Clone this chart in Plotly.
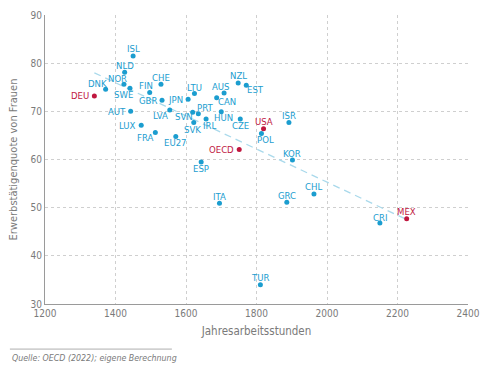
import plotly.graph_objects as go

countries = ["ISL", "NLD", "NOR", "DNK", "SWE", "DEU", "CHE", "FIN", "GBR", "JPN", "LTU",
             "AUT", "LVA", "SVN", "PRT", "SVK", "IRL", "LUX", "FRA", "EU27", "NZL", "EST",
             "AUS", "CAN", "HUN", "CZE", "USA", "POL", "OECD", "ISR", "KOR", "ESP", "GRC",
             "CHL", "CRI", "MEX", "ITA", "TUR"]
hours = [1450, 1426, 1424, 1372, 1441, 1340, 1529, 1497, 1532, 1606, 1624,
         1443, 1554, 1619, 1635, 1622, 1657, 1473, 1513, 1571, 1748, 1771,
         1708, 1687, 1700, 1754, 1820, 1814, 1751, 1892, 1902, 1643, 1886,
         1963, 2150, 2226, 1695, 1811]
rate = [81.5, 78.1, 75.6, 74.6, 74.8, 73.2, 75.6, 73.9, 72.3, 72.5, 73.7,
        70.0, 70.3, 69.8, 69.5, 67.7, 68.4, 67.1, 65.6, 64.8, 75.9, 75.4,
        73.8, 72.8, 69.9, 68.4, 66.4, 65.4, 62.1, 67.7, 59.9, 59.5, 51.1,
        52.85, 46.8, 47.7, 50.9, 34.0]
highlight = ["DEU", "USA", "OECD", "MEX"]

trend_hours = [1340, 2224]
trend_rate = [78.0, 47.6]

x_ticks = [1200, 1400, 1600, 1800, 2000, 2200, 2400]
y_ticks = [30, 40, 50, 60, 70, 80, 90]

# label placement (style only): (xanchor, xshift, yshift)
label_pos = {
    "ISL": ("center", 0, 7), "NLD": ("center", 0, 7), "NOR": ("center", -6, 5.5),
    "DNK": ("center", -8, 6), "SWE": ("center", -6, -6.5), "DEU": ("right", -3, 0),
    "CHE": ("center", 0, 7), "FIN": ("center", -3.5, 7), "GBR": ("right", -3, 0),
    "JPN": ("right", -3, 0), "LTU": ("center", 0, 6.5), "AUT": ("right", -3, 0),
    "LVA": ("center", -9, -6), "SVN": ("center", -9, -4.5), "PRT": ("center", 6.5, 6),
    "SVK": ("center", -1.5, -7), "IRL": ("center", 3, -6), "LUX": ("right", -3, 0),
    "FRA": ("center", -10, -4.5), "EU27": ("center", 0, -6.5), "NZL": ("center", 0, 7),
    "EST": ("center", 9, -4.5), "AUS": ("center", -3, 7), "CAN": ("center", 10, -4),
    "HUN": ("center", 2.5, -6), "CZE": ("center", 0, -6.5), "USA": ("center", 0, 7),
    "POL": ("center", 4, -6.5), "OECD": ("right", -3, 0), "ISR": ("center", 0, 7),
    "KOR": ("center", 0, 6.5), "ESP": ("center", 0, -7), "GRC": ("center", 0, 6.5),
    "CHL": ("center", 0, 7), "CRI": ("center", 0, 6), "MEX": ("center", 0, 7.5),
    "ITA": ("center", 0, 7), "TUR": ("center", 0, 7),
}

BLUE = "#1b9dcf"
RED = "#c0173f"
GREY = "#7a7a7a"
FONT = "DejaVu Sans Condensed"

colors = [RED if c in highlight else BLUE for c in countries]

fig = go.Figure()
fig.add_trace(go.Scatter(
    x=trend_hours, y=trend_rate, mode="lines",
    line=dict(color="#a9d9eb", width=1.3, dash="7px,5px"),
    hoverinfo="skip", showlegend=False))
fig.add_trace(go.Scatter(
    x=hours, y=rate, mode="markers", text=countries,
    marker=dict(color=colors, size=5), showlegend=False))

for c, h, r, col in zip(countries, hours, rate, colors):
    xa, xs, ys = label_pos[c]
    fig.add_annotation(x=h, y=r, xref="x", yref="y", text=c, showarrow=False,
                       xanchor=xa, yanchor="middle", xshift=xs, yshift=ys,
                       font=dict(family=FONT, size=9.5, color=col))

fig.add_annotation(x=-0.083, y=-0.187, xref="paper", yref="paper",
                   text="<i>Quelle: OECD (2022); eigene Berechnung</i>",
                   showarrow=False, xanchor="left", yanchor="middle",
                   font=dict(family=FONT, size=8.8, color=GREY))
fig.add_shape(type="line", xref="paper", yref="paper", x0=-0.083, x1=0.30, y0=-0.156, y1=-0.156,
              line=dict(color="#9a9a9a", width=0.8))

fig.update_layout(
    width=480, height=369,
    margin=dict(l=45, r=12, t=15, b=65),
    paper_bgcolor="white", plot_bgcolor="white",
    font=dict(family=FONT, color=GREY),
)
fig.update_xaxes(range=[1200, 2400], tickvals=x_ticks, ticks="", showgrid=True,
                 gridcolor="#cfcfcf", griddash="dot", gridwidth=1, automargin=False,
                 showline=True, linecolor="#9a9a9a", linewidth=1.2, zeroline=False,
                 tickfont=dict(size=10, color=GREY),
                 title=dict(text="Jahresarbeitsstunden", font=dict(size=11.5, color=GREY), standoff=8))
fig.update_yaxes(range=[30, 90], tickvals=y_ticks, ticks="", showgrid=True,
                 gridcolor="#cfcfcf", griddash="dot", gridwidth=1, automargin=False,
                 showline=True, linecolor="#9a9a9a", linewidth=1.2, zeroline=False,
                 tickfont=dict(size=10, color=GREY),
                 title=dict(text="Erwerbstätigenquote von Frauen", font=dict(size=11, color=GREY), standoff=10))

fig.write_html("out.html", config={"displayModeBar": False},
               post_script="document.body.style.margin='0px';document.body.style.padding='0px';")
